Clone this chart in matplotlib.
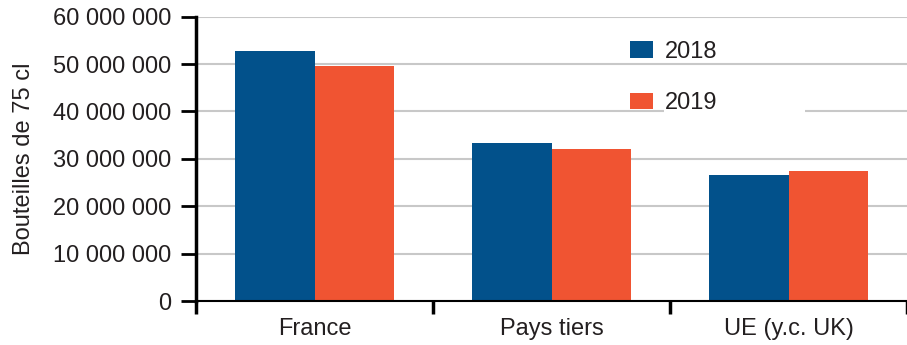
import matplotlib.pyplot as plt
import numpy as np
from matplotlib.patches import Rectangle
from matplotlib.ticker import FuncFormatter

plt.rcParams['font.family'] = ['Liberation Sans', 'DejaVu Sans']

categories = ['France', 'Pays tiers', 'UE (y.c. UK)']
years = ['2018', '2019']
bottles_2018 = [52_800_000, 33_300_000, 26_600_000]
bottles_2019 = [49_600_000, 32_100_000, 27_400_000]

blue = '#02518b'
orange = '#f05432'
text_col = '#231f20'

fig = plt.figure(figsize=(9.07, 3.45), dpi=100)
ax = fig.add_axes([0.2161, 0.1275, 1 - 0.2161, 0.824])

x = np.arange(len(categories))
w = 0.335
ax.bar(x - w / 2, bottles_2018, w, color=blue, label=years[0], zorder=3)
ax.bar(x + w / 2, bottles_2019, w, color=orange, label=years[1], zorder=3)

ax.set_ylim(0, 60_000_000)
ax.set_xlim(-0.5, 2.481)
ax.set_yticks(np.arange(0, 60_000_001, 10_000_000))
ax.yaxis.set_major_formatter(FuncFormatter(lambda v, p: f'{int(v):,}'.replace(',', ' ')))
ax.grid(axis='y', color='#c8c8c8', linewidth=1.5, zorder=0)

# category labels centred, ticks at group boundaries
ax.set_xticks(x)
ax.set_xticklabels(categories)
ax.set_xticks(np.arange(-0.5, 2.6, 1), minor=True)
ax.tick_params(axis='x', which='major', length=0, pad=12, labelsize=17, labelcolor=text_col)
ax.tick_params(axis='x', which='minor', length=9, width=2.5, direction='out', color='black')
ax.tick_params(axis='y', length=11, width=2, color='black', pad=7, labelsize=17, labelcolor=text_col)

for s in ['top', 'right']:
    ax.spines[s].set_visible(False)
ax.spines['left'].set_linewidth(2.5)
ax.spines['bottom'].set_linewidth(1.5)
ax.spines['left'].set_zorder(4)
ax.spines['bottom'].set_zorder(4)

ax.set_ylabel('Bouteilles de 75 cl', fontsize=17, color=text_col, labelpad=13)

# white patch behind the second legend entry
ax.add_patch(Rectangle((0.658, 0.64), 0.198, 0.055, transform=ax.transAxes,
                       facecolor='white', edgecolor='none', zorder=2))

ax.legend(loc='upper left', bbox_to_anchor=(0.61, 0.915), frameon=False,
          fontsize=17, handlelength=1.0, handleheight=0.7, handletextpad=0.5,
          labelspacing=1.25, borderpad=0, borderaxespad=0, labelcolor=text_col)

fig.savefig('out.png', dpi=100)
